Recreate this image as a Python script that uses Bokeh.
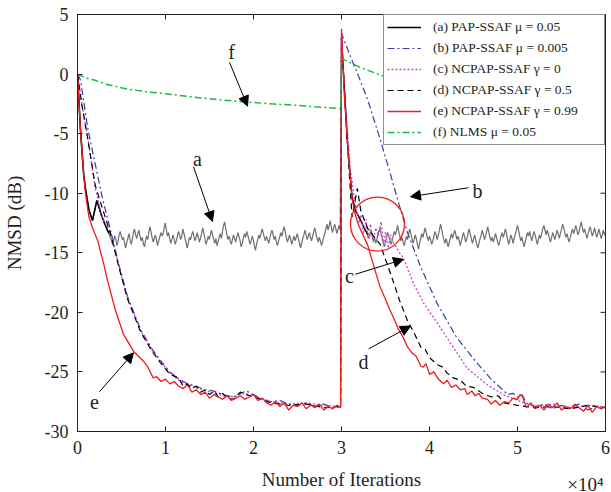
import numpy as np
from bokeh.plotting import figure
from bokeh.models import (Legend, LegendItem, Arrow, NormalHead, Label, Title,
                          FixedTicker, Range1d)
from bokeh.embed import file_html
from bokeh.resources import INLINE

FONT = "Liberation Serif"
INK = "#231f20"

# ---------------- data (x in units of 10^4 iterations, y in dB) ----------------
x_ticks = [0, 1, 2, 3, 4, 5, 6]
x_tick_labels = ["0", "1", "2", "3", "4", "5", "6"]
y_ticks = [-30, -25, -20, -15, -10, -5, 0, 5]
y_tick_labels = ["-30", "-25", "-20", "-15", "-10", "-5", "0", "5"]
x_multiplier = "\u00d710\u2074"

legend_labels = [
    "(a) PAP-SSAF \u03bc = 0.05",
    "(b) PAP-SSAF \u03bc = 0.005",
    "(c) NCPAP-SSAF \u03b3 = 0",
    "(d) NCPAP-SSAF \u03b3 = 0.5",
    "(e) NCPAP-SSAF \u03b3 = 0.99",
    "(f) NLMS \u03bc = 0.05",
]

# (a) PAP-SSAF mu=0.05 : transient 1, steady noise 1, transient 2, steady noise 2
a_head1_x = [0, 0.034, 0.07, 0.09, 0.13, 0.17, 0.22, 0.27, 0.30, 0.34]
a_head1_y = [0, -4.7, -8.4, -9.6, -11.4, -12.3, -10.6, -11.8, -12.4, -13.1]
a_noise1_y = [
    -13.4, -13.7, -13.9, -14.3, -14.0, -13.6, -13.8, -14.4, -14.1, -13.5,
    -13.2, -13.6, -13.9, -13.7, -14.2, -14.6, -14.1, -13.8, -13.4, -13.9,
    -14.3, -13.9, -13.3, -13.0, -13.5, -13.8, -13.4, -13.1, -13.6, -14.0,
    -13.7, -14.2, -14.5, -14.0, -13.6, -13.9, -13.3, -12.8, -13.2, -13.7,
    -14.1, -13.8, -13.5, -13.9, -14.4, -14.0, -13.7, -13.3, -13.6, -13.4,
    -12.9, -12.5, -13.1, -13.6, -13.3, -13.8, -14.2, -13.9, -13.5, -13.8,
    -14.3, -14.0, -13.6, -13.2, -13.5, -13.9, -13.6, -13.0, -13.4, -13.8,
    -14.2, -14.6, -14.1, -13.7, -13.9, -13.5, -13.2, -13.6, -14.0, -13.7,
    -13.3, -13.7, -14.1, -13.8, -13.4, -12.9, -13.3, -13.8, -14.3, -14.0,
    -13.6, -13.9, -13.5, -13.1, -13.5, -13.9, -14.2, -13.8, -14.4, -14.1,
    -13.7, -13.4, -13.8, -13.2, -12.7, -12.4, -13.0, -13.5, -13.9, -13.6,
    -14.0, -14.3, -13.9, -13.5, -13.8, -14.1, -13.7, -13.3, -13.6, -14.0,
    -14.5, -14.2, -13.8, -13.4, -13.7, -13.2, -13.5, -13.9, -14.3, -14.0,
    -13.6, -13.9, -14.4, -14.8, -14.3, -13.9, -13.5, -13.8, -13.4, -13.0,
    -13.3, -13.7, -14.0, -13.6, -13.9, -14.2, -13.8, -13.4, -13.1, -13.5,
    -13.9, -13.6, -14.1, -14.4, -14.0, -13.7, -13.3, -13.6, -13.2, -12.8,
    -13.2, -13.7, -14.1, -13.8, -13.5, -13.9, -14.3, -13.9, -13.6, -14.0,
    -13.7, -13.4, -13.8, -14.2, -14.6, -14.2, -13.8, -13.5, -13.1, -13.5,
    -13.9, -13.6, -13.3, -13.7, -14.0, -13.6, -13.2, -12.9, -13.4, -13.8,
    -14.1, -13.7, -14.0, -14.4, -14.1, -13.7, -13.4, -13.0, -12.6, -13.1,
    -12.7, -12.3, -12.9, -13.3, -12.9, -12.6, -13.0, -13.4, -13.0, -12.7, -13.1,
]
a_noise1_x = np.linspace(0.36, 2.985, len(a_noise1_y))
a_head2_x = [3.0, 3.07, 3.12, 3.16, 3.2, 3.25]
a_head2_y = [3.0, -6.0, -10.3, -11.5, -12.0, -12.8]
a_noise2_y = [
    -13.5, -13.8, -13.4, -13.1, -13.6, -14.0, -13.7, -14.2, -13.9, -13.5,
    -13.2, -12.9, -13.4, -13.8, -14.2, -14.5, -14.1, -13.7, -13.3, -13.6,
    -13.9, -14.3, -14.0, -13.6, -13.2, -13.5, -13.1, -12.7, -13.2, -13.6,
    -14.0, -13.7, -14.1, -14.4, -14.0, -13.6, -13.9, -13.4, -13.0, -13.4,
    -13.8, -14.2, -13.9, -13.5, -13.8, -14.3, -14.7, -14.2, -13.8, -13.4,
    -13.7, -13.3, -12.9, -13.3, -13.7, -14.0, -13.6, -13.9, -14.3, -14.0,
    -13.6, -13.2, -13.5, -13.9, -13.5, -13.1, -12.6, -13.0, -13.5, -13.9,
    -14.2, -13.8, -14.1, -14.5, -14.1, -13.7, -13.4, -13.8, -13.4, -13.1,
    -13.5, -13.9, -13.6, -14.0, -14.4, -14.0, -13.6, -13.3, -13.7, -14.1,
    -13.8, -13.4, -13.0, -13.4, -13.8, -14.2, -13.9, -13.5, -13.9, -14.3,
    -14.6, -14.2, -13.8, -13.5, -13.1, -13.5, -13.9, -13.6, -13.2, -12.8,
    -13.3, -13.7, -14.0, -13.7, -14.1, -13.8, -13.4, -13.7, -14.1, -14.4,
    -14.0, -13.6, -13.3, -13.7, -13.4, -13.0, -13.4, -13.9, -14.3, -13.9,
    -13.5, -13.8, -14.2, -13.8, -13.4, -13.1, -12.7, -13.1, -13.6, -14.0,
    -13.7, -14.1, -14.5, -14.1, -13.7, -13.3, -13.6, -13.2, -13.6, -14.0,
    -13.6, -13.2, -13.5, -13.9, -14.3, -13.9, -13.5, -13.8, -13.4, -13.0,
    -12.7, -13.1, -13.5, -13.1, -13.4, -13.8, -14.1, -13.7, -13.3, -13.6,
    -13.9, -13.5, -13.1, -13.4, -13.8, -13.4, -13.0, -12.6, -12.9, -13.3,
    -13.7, -13.4, -13.8, -14.1, -13.7, -13.3, -13.0, -13.4, -13.1, -12.7,
    -13.1, -13.5, -13.2, -12.8, -12.4, -12.9, -13.3, -13.0, -13.4, -13.8,
    -13.5, -13.1, -12.8, -13.2, -13.6, -13.3, -12.9, -13.3, -13.7, -13.4,
    -13.0, -13.4, -13.8, -13.5, -13.1, -13.5, -13.2,
]
a_noise2_x = np.linspace(3.3, 6.0, len(a_noise2_y))

# (b) PAP-SSAF mu=0.005
b_x = [0, 0.034, 0.12, 0.2, 0.28, 0.375, 0.47, 0.57, 0.72, 0.85, 0.94, 1.05, 1.15,
       1.25, 1.35, 1.45, 1.55, 1.65, 1.77, 1.85, 1.92, 2.0, 2.1, 2.2, 2.3, 2.4, 2.5,
       2.6, 2.7, 2.8, 2.9, 2.99, 3.0, 3.1, 3.2, 3.3, 3.44, 3.56, 3.64, 3.75, 3.9,
       4.09, 4.3, 4.5, 4.7, 4.89, 4.95, 5.0, 5.05, 5.1, 5.2, 5.3, 5.4, 5.5, 5.6,
       5.7, 5.8, 5.9, 6.0]
b_y = [0, -0.5, -4.7, -7.5, -10.3, -13.1, -16.0, -18.7, -21.5, -23.1, -24.0, -25.0,
       -25.6, -26.0, -26.2, -26.5, -26.6, -26.9, -27.1, -26.8, -26.6, -26.9, -27.3,
       -27.5, -27.4, -27.7, -27.8, -27.6, -27.9, -27.7, -28.0, -27.9, 3.4, 1.5,
       -0.3, -2.2, -5.5, -8.5, -10.6, -13.3, -16.2, -19.3, -22.0, -23.9, -25.6,
       -26.9, -26.8, -27.1, -26.9, -27.6, -27.9, -27.7, -28.1, -27.8, -28.0, -27.7,
       -28.2, -27.9, -28.0]

# (c) NCPAP-SSAF gamma=0
c_x = [0, 0.05, 0.12, 0.2, 0.24, 0.28, 0.32, 0.375, 0.47, 0.57, 0.72, 0.85, 0.94,
       1.05, 1.15, 1.25, 1.35, 1.45, 1.55, 1.65, 1.77, 1.9, 2.0, 2.2, 2.4, 2.6, 2.8,
       2.99, 3.0, 3.05, 3.1, 3.16, 3.2, 3.22, 3.25, 3.28, 3.3, 3.33, 3.36, 3.39,
       3.42, 3.45, 3.48, 3.5, 3.53, 3.56, 3.59, 3.62, 3.66, 3.7, 3.82, 3.93, 4.09,
       4.24, 4.43, 4.66, 4.84, 5.0, 5.2, 5.4, 5.6, 5.8, 6.0]
c_y = [0, -2.5, -5.5, -9.5, -10.8, -12.0, -12.6, -13.3, -16.1, -18.8, -21.6, -23.2,
       -24.1, -25.1, -25.7, -26.1, -26.3, -26.6, -26.7, -27.0, -27.1, -26.8, -27.0,
       -27.5, -27.7, -27.6, -27.8, -27.9, 3.2, -3.0, -8.0, -11.0, -12.5, -11.8,
       -13.4, -12.2, -13.8, -12.6, -14.1, -12.9, -13.6, -12.4, -14.3, -13.2, -14.6,
       -13.5, -14.2, -14.5, -15.0, -15.4, -17.6, -19.2, -20.9, -22.6, -24.7, -26.1,
       -26.9, -27.4, -27.9, -27.7, -28.0, -27.8, -28.0]

# (d) NCPAP-SSAF gamma=0.5
d_x = [0, 0.05, 0.12, 0.2, 0.28, 0.375, 0.47, 0.57, 0.72, 0.85, 0.94, 1.05, 1.15,
       1.2, 1.25, 1.3, 1.35, 1.4, 1.45, 1.5, 1.55, 1.6, 1.65, 1.7, 1.77, 1.85, 1.92,
       2.0, 2.2, 2.4, 2.6, 2.8, 2.99, 3.0, 3.06, 3.12, 3.18, 3.22, 3.3, 3.44, 3.56,
       3.66, 3.75, 3.83, 3.9, 3.95, 4.0, 4.09, 4.15, 4.2, 4.27, 4.35, 4.42, 4.5,
       4.6, 4.7, 4.78, 4.85, 5.0, 5.2, 5.4, 5.6, 5.8, 6.0]
d_y = [0, -2.6, -5.6, -9.3, -11.2, -13.4, -16.2, -18.9, -21.7, -23.3, -24.2, -25.2,
       -25.5, -26.2, -26.0, -26.4, -26.2, -26.7, -26.5, -26.9, -26.6, -27.1, -26.8,
       -27.2, -27.3, -26.7, -26.9, -27.1, -27.6, -27.8, -27.7, -28.0, -27.9, 3.0,
       -5.0, -12.0, -9.6, -11.5, -13.0, -14.3, -16.8, -19.0, -20.7, -21.8, -22.9,
       -23.1, -23.8, -24.4, -24.6, -25.1, -25.5, -25.7, -26.2, -26.3, -26.8, -27.1,
       -27.0, -27.6, -27.8, -28.0, -27.9, -28.1, -27.8, -28.0]

# (e) NCPAP-SSAF gamma=0.99
e_x = [0, 0.01, 0.034, 0.07, 0.09, 0.13, 0.17, 0.23, 0.3, 0.34, 0.43, 0.52, 0.64,
       0.75, 0.8, 0.86, 0.9, 0.95, 1.0, 1.05, 1.1, 1.15, 1.2, 1.25, 1.3, 1.35, 1.4,
       1.45, 1.5, 1.55, 1.6, 1.65, 1.7, 1.75, 1.8, 1.85, 1.9, 1.95, 2.0, 2.05, 2.1,
       2.15, 2.2, 2.25, 2.3, 2.35, 2.4, 2.45, 2.5, 2.55, 2.6, 2.65, 2.7, 2.75, 2.8,
       2.85, 2.9, 2.95, 2.99,
       3.0, 3.03, 3.07, 3.1, 3.12, 3.16, 3.2, 3.25, 3.3, 3.37, 3.44, 3.5, 3.55, 3.6,
       3.64, 3.7, 3.75, 3.8, 3.85, 3.9, 3.93, 3.96, 4.0, 4.05, 4.1, 4.16, 4.2, 4.25,
       4.3, 4.35, 4.4, 4.43, 4.48, 4.52, 4.56, 4.6, 4.66, 4.7, 4.75, 4.8, 4.85, 4.9,
       4.95, 5.0, 5.03, 5.06, 5.1, 5.15, 5.2, 5.25, 5.3, 5.35, 5.4, 5.45, 5.5, 5.55,
       5.6, 5.65, 5.7, 5.75, 5.8, 5.85, 5.9, 5.95, 6.0]
e_y = [0, -1.5, -4.7, -8.4, -10.0, -12.0, -12.9, -14.0, -16.0, -17.3, -19.8, -21.8,
       -23.3, -24.1, -24.6, -25.5, -25.4, -25.8, -25.6, -26.0, -25.8, -26.2, -26.4,
       -26.1, -26.7, -26.5, -26.9, -26.7, -27.2, -26.9, -27.1, -27.3, -27.0, -27.4,
       -27.2, -27.0, -27.3, -27.1, -26.9, -27.4, -27.2, -27.6, -27.8, -27.5, -27.9,
       -27.6, -28.2, -27.8, -27.9, -27.6, -28.1, -27.8, -28.0, -27.7, -28.2, -27.9,
       -28.1, -27.8, -28.0,
       3.8, -1.5, -6.0, -8.7, -10.5, -11.9, -12.8, -13.6, -14.4, -16.2, -17.9, -18.9,
       -19.8, -20.6, -21.3, -22.1, -22.9, -23.4, -23.7, -24.5, -24.6, -24.3, -25.2,
       -25.0, -25.6, -26.0, -25.7, -26.3, -26.1, -26.5, -26.4, -26.9, -26.6, -27.0,
       -26.8, -27.2, -27.3, -27.7, -27.4, -27.8, -27.5, -27.6, -27.2, -27.3, -26.9,
       -27.1, -28.0, -27.6, -28.1, -27.8, -28.2, -27.7, -28.0, -27.6, -28.2, -27.9,
       -28.1, -27.7, -28.0, -28.3, -27.8, -28.4, -27.9, -28.1, -27.9]

# (f) NLMS mu=0.05
f_x = [0, 0.1, 0.19, 0.35, 0.57, 0.8, 1.0, 1.32, 1.6, 1.93, 2.2, 2.45, 2.7, 2.99,
       3.0, 3.2, 3.5, 4.0, 4.5, 5.0, 5.5, 6.0]
f_y = [0, -0.35, -0.5, -0.9, -1.26, -1.5, -1.65, -1.93, -2.15, -2.35, -2.5, -2.6,
       -2.75, -2.9, 1.3, 0.6, -0.25, -0.9, -1.4, -1.8, -2.2, -2.5]

# annotations (letter, text position, arrow start, arrow end) in data units
ann_text = ["f", "a", "b", "c", "d", "e"]
ann_text_x = [1.75, 1.364, 4.545, 3.09, 3.25, 0.193]
ann_text_y = [1.83, -7.11, -9.79, -16.97, -24.16, -27.5]
ann_x0 = [1.727, 1.318, 4.443, 3.159, 3.307, 0.25]
ann_y0 = [0.99, -7.78, -9.54, -16.8, -23.07, -26.66]
ann_x1 = [1.932, 1.534, 3.784, 3.705, 3.784, 0.636]
ann_y1 = [-2.69, -12.38, -10.29, -15.55, -21.15, -23.4]
highlight_x = [3.409]
highlight_y = [-12.59]

X_MIN, X_MAX, Y_MIN, Y_MAX = 0, 6, -30, 5

# ---------------- figure ----------------
p = figure(width=611, height=492, x_range=Range1d(X_MIN, X_MAX),
           y_range=Range1d(Y_MIN, Y_MAX),
           output_backend="svg", toolbar_location=None,
           min_border_left=77, min_border_right=6, min_border_top=14,
           min_border_bottom=59)
p.background_fill_color = "white"
p.border_fill_color = "white"
p.outline_line_color = INK
p.outline_line_width = 1
p.grid.visible = False

p.xaxis.axis_label = "Number of Iterations"
p.yaxis.axis_label = "NMSD (dB)"
for ax in p.xaxis + p.yaxis:
    ax.axis_line_color = INK
    ax.major_tick_line_color = INK
    ax.major_tick_in = 5
    ax.major_tick_out = 0
    ax.minor_tick_line_color = None
    ax.major_label_text_font = FONT
    ax.major_label_text_font_size = "18px"
    ax.major_label_text_color = INK
    ax.axis_label_text_font = FONT
    ax.axis_label_text_font_size = "19px"
    ax.axis_label_text_font_style = "normal"
    ax.axis_label_text_color = INK
p.xaxis.ticker = FixedTicker(ticks=x_ticks)
p.yaxis.ticker = FixedTicker(ticks=y_ticks)
p.xaxis.major_label_overrides = dict(zip(x_ticks, x_tick_labels))
p.yaxis.major_label_overrides = dict(zip(y_ticks, y_tick_labels))
p.xaxis.major_label_standoff = 9
p.xaxis.axis_label_standoff = 12
p.yaxis.major_label_standoff = 9
p.yaxis.axis_label_standoff = 17

# x10^4 multiplier, lifted beside the x-axis title (negative standoff panel)
mult = Title(text=x_multiplier, align="right", text_font=FONT, text_font_size="19px",
             text_font_style="normal", text_color=INK, vertical_align="top",
             standoff=-38, offset=2)
p.add_layout(mult, "below")

# inward tick marks mirrored on the top and right frame edges (5 px long)
tick_dy = 5 * (Y_MAX - Y_MIN) / 419.0
tick_dx = 5 * (X_MAX - X_MIN) / 528.0
p.segment(x0=x_ticks, y0=[Y_MAX] * len(x_ticks), x1=x_ticks,
          y1=[Y_MAX - tick_dy] * len(x_ticks), line_color=INK, line_width=1)
p.segment(x0=[X_MAX] * len(y_ticks), y0=y_ticks, x1=[X_MAX - tick_dx] * len(y_ticks),
          y1=y_ticks, line_color=INK, line_width=1)

# ---------------- curves ----------------
a_x = a_head1_x + list(a_noise1_x) + a_head2_x + list(a_noise2_x)
a_y = a_head1_y + a_noise1_y + a_head2_y + a_noise2_y
r_a_gray = p.line(a_x, a_y, line_color="#6f6f6f", line_width=1.2)
r_a1 = p.line(a_head1_x + [a_noise1_x[0]], a_head1_y + [a_noise1_y[0]],
              line_color="black", line_width=1.6)
r_a2 = p.line(a_head2_x + [a_noise2_x[0]], a_head2_y + [a_noise2_y[0]],
              line_color="black", line_width=1.3)
r_b = p.line(b_x, b_y, line_color="#3b3bb0", line_width=1.2, line_dash="7 3 2 3")
r_c = p.line(c_x, c_y, line_color="#cc44cc", line_width=1.3, line_dash="2 2")
r_d = p.line(d_x, d_y, line_color="black", line_width=1.2, line_dash="6 4")
r_e = p.line(e_x, e_y, line_color="#ee1c1c", line_width=1.3)
r_f = p.line(f_x, f_y, line_color="#1fb34a", line_width=1.5, line_dash="7 3 2 3")

# highlight circle
p.scatter(highlight_x, highlight_y, marker="circle", size=54, fill_color=None,
          line_color="#ee1c1c", line_width=1.3)

# arrows and letters
for t, tx, ty, x0, y0, x1, y1 in zip(ann_text, ann_text_x, ann_text_y,
                                     ann_x0, ann_y0, ann_x1, ann_y1):
    p.add_layout(Arrow(end=NormalHead(size=10, fill_color="black", line_color="black",
                                      line_width=1),
                       x_start=x0, y_start=y0, x_end=x1, y_end=y1,
                       line_color="black", line_width=1))
    p.add_layout(Label(x=tx, y=ty, text=t, text_font=FONT, text_font_size="20px",
                       text_align="center", text_baseline="middle", text_color=INK))

# ---------------- legend ----------------
legend = Legend(items=[
    LegendItem(label=legend_labels[0], renderers=[r_a1]),
    LegendItem(label=legend_labels[1], renderers=[r_b]),
    LegendItem(label=legend_labels[2], renderers=[r_c]),
    LegendItem(label=legend_labels[3], renderers=[r_d]),
    LegendItem(label=legend_labels[4], renderers=[r_e]),
    LegendItem(label=legend_labels[5], renderers=[r_f]),
], location="top_right")
legend.margin = 0
legend.padding = 3
legend.spacing = 3
legend.label_height = 18
legend.glyph_height = 18
legend.glyph_width = 34
legend.label_width = 168
legend.label_standoff = 12
legend.label_text_font = FONT
legend.label_text_font_size = "13.5px"
legend.label_text_color = INK
legend.border_line_color = INK
legend.border_line_width = 1
legend.background_fill_color = "white"
legend.background_fill_alpha = 1
p.add_layout(legend)

open("out.html", "w").write(file_html(p, INLINE))
